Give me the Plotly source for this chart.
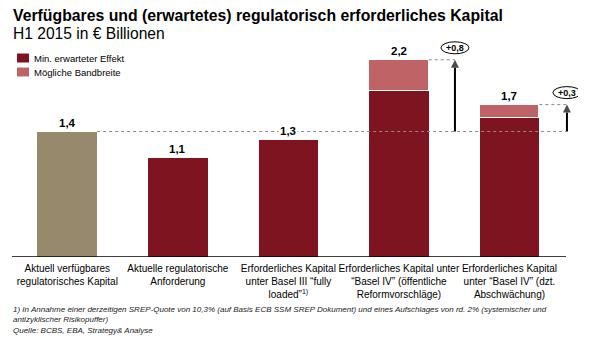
import plotly.graph_objects as go

categories = [
    "Aktuell verfügbares<br>regulatorisches Kapital",
    "Aktuelle regulatorische<br>Anforderung",
    "Erforderliches Kapital<br>unter Basel III “fully<br>loaded”<sup>1)</sup>",
    "Erforderliches Kapital unter<br>“Basel IV” (öffentliche<br>Reformvorschläge)",
    "Erforderliches Kapital<br>unter “Basel IV” (dzt.<br>Abschwächung)",
]
available = [1.4]
min_effect = [1.1, 1.3, 1.85, 1.55]
bandwidth = [0.35, 0.15]
totals = [1.4, 1.1, 1.3, 2.2, 1.7]
total_labels = ["1,4", "1,1", "1,3", "2,2", "1,7"]
delta_labels = ["+0,8", "+0,3"]
legend_names = ["Min. erwarteter Effekt", "Mögliche Bandbreite"]

KHAKI = "#978A6C"
DARK = "#7E1420"
LIGHT = "#C06366"
FONT = "Liberation Sans"

W, H = 590, 339
ML, MR, MT, MB = 12, 12, 6, 82
PW, PH = W - ML - MR, H - MT - MB

def px_x(p):
    return (p - ML) / PW

def px_y(p):
    return 1 - (p - MT) / PH

xs = list(range(len(categories)))
fig = go.Figure()
fig.add_trace(go.Bar(x=[0], y=available, marker=dict(color=KHAKI, line=dict(width=0)),
                     width=0.54, showlegend=False, name="Aktuell", hoverinfo="skip"))
fig.add_trace(go.Bar(x=[1, 2, 3, 4], y=min_effect, marker=dict(color=DARK, line=dict(width=0)),
                     width=0.54, showlegend=False, name=legend_names[0]))
fig.add_trace(go.Bar(x=[3, 4], y=bandwidth, marker=dict(color=LIGHT, line=dict(width=1, color="white")),
                     width=0.54, showlegend=False, name=legend_names[1]))

shapes = []
annotations = []
half = 0.27
ref = totals[0]
arrow_x = [3.507, 4.52]
shapes.append(dict(type="line", xref="x", yref="y", x0=0 + half, x1=arrow_x[1], y0=ref, y1=ref,
                   line=dict(color="#8a8a8a", width=1, dash="dot")))
for k, (i, ax) in enumerate(zip([3, 4], arrow_x)):
    shapes.append(dict(type="line", xref="x", yref="y", x0=i + half, x1=ax, y0=totals[i], y1=totals[i],
                       line=dict(color="#8a8a8a", width=1, dash="dot")))
    fig.add_trace(go.Scatter(x=[ax, ax], y=[ref, totals[i]], mode="lines+markers",
                             line=dict(color="black", width=2),
                             marker=dict(symbol=["circle", "arrow-up"], size=[0, 8], color="black",
                                         line=dict(width=0)),
                             showlegend=False, hoverinfo="skip"))
    shapes.append(dict(type="circle", xref="x", yref="y", xsizemode="pixel", ysizemode="pixel",
                       xanchor=ax, yanchor=totals[i], x0=-14, x1=14, y0=6, y1=18, layer="below",
                       line=dict(color="black", width=1), fillcolor="white"))
    annotations.append(dict(x=ax, y=totals[i], xref="x", yref="y", yshift=12, yanchor="middle",
                            text=f"<b>{delta_labels[k]}</b>",
                            showarrow=False, font=dict(size=9, color="black", family=FONT)))

for i in xs:
    annotations.append(dict(x=i, y=totals[i], xref="x", yref="y", yshift=9, text=f"<b>{total_labels[i]}</b>",
                            showarrow=False, font=dict(size=11.5, color="black", family=FONT), bgcolor="white"))

# baseline
shapes.append(dict(type="line", xref="paper", yref="y", x0=0, x1=px_x(566), y0=0, y1=0,
                   line=dict(color="black", width=1.3)))

# legend (drawn)
legend_colors = [DARK, LIGHT]
legend_y = [58, 72]
for name, col, yy in zip(legend_names, legend_colors, legend_y):
    shapes.append(dict(type="rect", xref="paper", yref="paper", x0=px_x(17), x1=px_x(29),
                       y0=px_y(yy + 4.5), y1=px_y(yy - 4.5), fillcolor=col, line=dict(width=0)))
    annotations.append(dict(xref="paper", yref="paper", x=px_x(32), y=px_y(yy), xanchor="left",
                            yanchor="middle", text=name, showarrow=False,
                            font=dict(size=9.5, color="black", family=FONT)))

annotations.append(dict(xref="paper", yref="paper", x=px_x(11), y=px_y(16), xanchor="left", yanchor="middle",
                        text="<b>Verfügbares und (erwartetes) regulatorisch erforderliches Kapital</b>",
                        showarrow=False, font=dict(size=15.8, color="black", family=FONT)))
annotations.append(dict(xref="paper", yref="paper", x=px_x(11), y=px_y(33), xanchor="left", yanchor="middle",
                        text="H1 2015 in € Billionen",
                        showarrow=False, font=dict(size=15.6, color="black", family=FONT)))
annotations.append(dict(xref="paper", yref="paper", x=px_x(11), y=px_y(303), xanchor="left", yanchor="top",
                        align="left",
                        text="<i>1) In Annahme einer derzeitigen SREP-Quote von 10,3% (auf Basis ECB SSM SREP Dokument) und eines Aufschlages von rd. 2% (systemischer und<br>"
                             "antizyklischer Risikopuffer)<br>Quelle: BCBS, EBA, Strategy&amp; Analyse</i>",
                        showarrow=False, font=dict(size=8, color="#222222", family=FONT)))

fig.update_layout(
    width=W, height=H,
    margin=dict(l=ML, r=MR, t=MT, b=MB),
    paper_bgcolor="white", plot_bgcolor="white",
    barmode="stack", bargap=0, showlegend=False,
    font=dict(family=FONT, color="black"),
    xaxis=dict(range=[-0.5, 4.62], tickmode="array", tickvals=xs, ticktext=categories, tickangle=0,
               automargin=False, showgrid=False, zeroline=False, showline=False, ticks="",
               tickfont=dict(size=10, color="black", family=FONT), ticklabelstandoff=4, fixedrange=True),
    yaxis=dict(range=[0, 2.8], showticklabels=False, showgrid=False, zeroline=False, showline=False,
               ticks="", fixedrange=True),
    shapes=shapes, annotations=annotations,
)

fig.write_html("out.html")
